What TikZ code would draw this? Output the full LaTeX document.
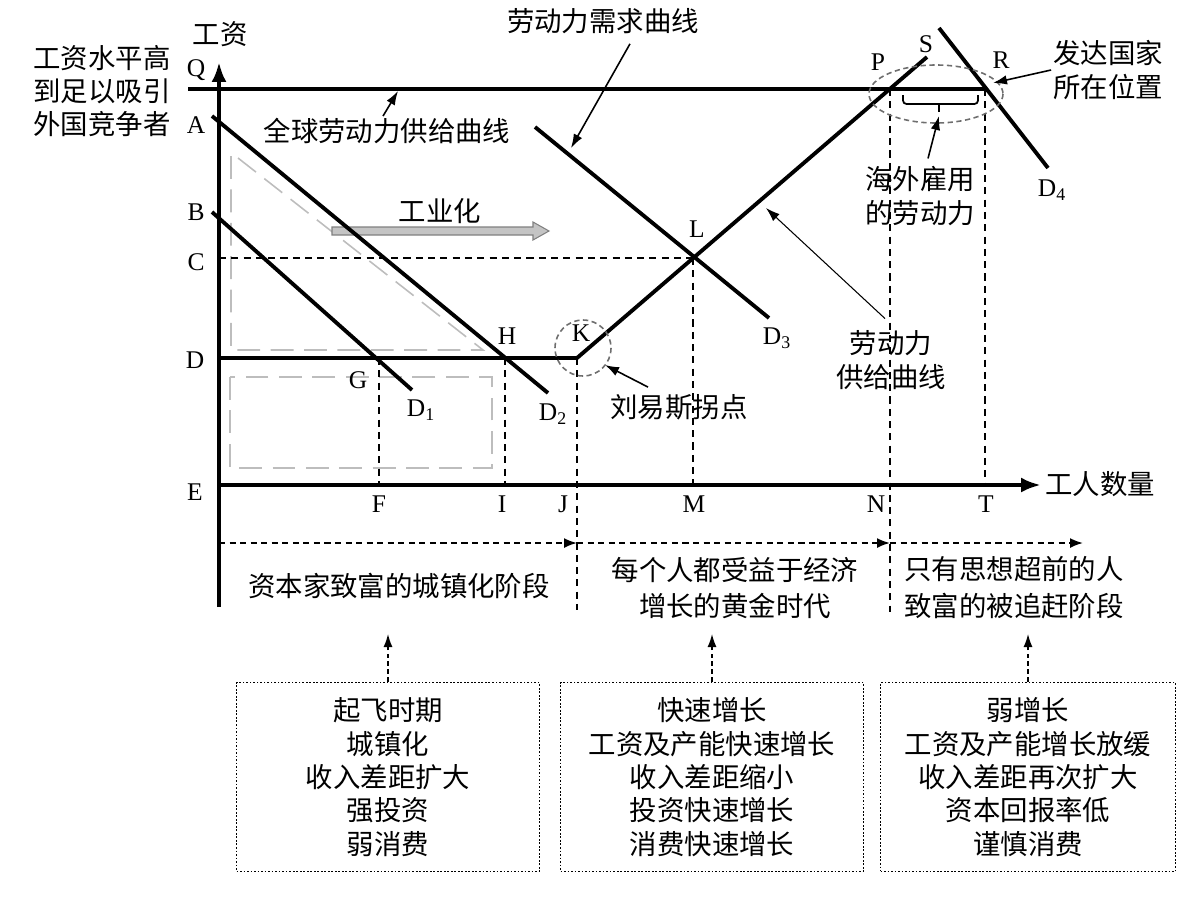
\documentclass[tikz,border=0pt]{standalone}
\usepackage{fontspec}
\setmainfont{Liberation Serif}
\newfontfamily\cjk{Noto Sans CJK SC}
\usepackage{tikz}
\usetikzlibrary{arrows.meta,positioning,decorations.pathreplacing}
\usepackage{xcolor}
\definecolor{guidegray}{HTML}{BDBDBD}
\definecolor{ringgray}{HTML}{6E6E6E}
\definecolor{flowgray}{HTML}{C4C4C4}
\tikzset{
  cnlabel/.style={
    font=\cjk\fontsize{15.6}{19}\selectfont,
    align=center,
    inner sep=1pt
  },
  stagelabel/.style={
    font=\cjk\fontsize{15.6}{21}\selectfont,
    align=center,
    inner sep=1pt
  },
  ptlabel/.style={
    font=\fontsize{14.5}{16}\selectfont,
    inner sep=1pt
  },
  notebox/.style={
    draw,
    densely dotted,
    line width=1pt,
    minimum width=6.06cm,
    minimum height=3.78cm,
    align=center,
    font=\cjk\fontsize{15.6}{19}\selectfont
  },
  curve/.style={line width=2.2pt},
  axis/.style={
    line width=2.4pt,
    -{Latex[length=4mm,width=3mm]}
  },
  guide/.style={dash pattern=on 4pt off 3pt, line width=0.9pt},
  shade/.style={draw=guidegray, dash pattern=on 13pt off 6pt, line width=0.9pt},
  ring/.style={draw=ringgray, dash pattern=on 3pt off 2pt, line width=0.9pt},
  pointer/.style={
    -{Latex[length=2.8mm,width=1.9mm]},
    line width=0.9pt
  },
  stagearrow/.style={
    -{Latex[length=2.6mm,width=2mm]},
    dash pattern=on 3.5pt off 2.5pt,
    line width=1pt
  },
  backarrow/.style={
    -{Latex[length=2.6mm,width=1.8mm]},
    dash pattern=on 2.5pt off 2pt,
    line width=0.8pt
  }
}

\begin{document}
\begin{tikzpicture}[x=0.02cm,y=-0.02cm]
\useasboundingbox (0,0) rectangle (1196,896);

\coordinate (origin) at (219,485);
\coordinate (ytop) at (219,62);
\coordinate (ybot) at (219,607);
\coordinate (xend) at (1041,485);
\coordinate (qstart) at (188,89);
\coordinate (ppt) at (890,89);
\coordinate (rpt) at (985,89);
\coordinate (astart) at (212,116);
\coordinate (aend) at (548,393);
\coordinate (bstart) at (212,212);
\coordinate (bend) at (412,390);
\coordinate (dthreestart) at (535,127);
\coordinate (dthreeend) at (769,318);
\coordinate (dfourstart) at (939,28);
\coordinate (dfourend) at (1048,168);
\coordinate (dstart) at (219,358);
\coordinate (kpt) at (577,358);
\coordinate (spt) at (927,57);
\coordinate (lpt) at (693,258);
\coordinate (gpt) at (379,358);
\coordinate (hpt) at (505,358);
\coordinate (cstart) at (219,258);

\draw[shade] (238,158) -- (483,350) -- (231,350) -- (231,153);
\draw[shade] (230,377) rectangle (492,468);
\draw[draw=gray, fill=flowgray, line width=0.6pt]
  (332,227) -- (533,227) -- (533,222) -- (549,231) -- (533,240) -- (533,235) -- (332,235) -- cycle;

\draw[guide] (cstart) -- (lpt);
\draw[guide] (gpt) -- (gpt |- origin);
\draw[guide] (hpt) -- (hpt |- origin);
\draw[guide] (lpt) -- (lpt |- origin);
\draw[guide] (kpt) -- (577,610);
\draw[guide] (ppt) -- (890,612);
\draw[guide] (rpt) -- (rpt |- origin);

\draw[axis] (ybot) -- (ytop);
\draw[axis] (origin) -- (xend);
\draw[curve] (qstart) -- (rpt);
\draw[curve] (astart) -- (aend);
\draw[curve] (bstart) -- (bend);
\draw[curve] (dthreestart) -- (dthreeend);
\draw[curve] (dfourstart) -- (dfourend);
\draw[curve, line join=miter] (dstart) -- (kpt) -- (spt);

\draw[ring] (936,94) ellipse [x radius=67, y radius=29];
\draw[ring] (583,348) circle [radius=28];
\draw[line width=1pt, rounded corners=2pt] (903,95) -- (903,104) -- (978,104) -- (978,95);
\draw[line width=1pt] (939,104) -- (939,112);
\coordinate (bracetip) at (939,116);

\node[cnlabel] (ylab) at (220,34) {工资};
\node[cnlabel] (xlab) at (1100,484) {工人数量};
\node[cnlabel] (toplab) at (102,91) {工资水平高\\到足以吸引\\外国竞争者};
\node[ptlabel] (labq) at (196,70) {Q};
\node[ptlabel] (laba) at (196,125) {A};
\node[ptlabel] (labb) at (196,212) {B};
\node[ptlabel] (labc) at (196,262) {C};
\node[ptlabel] (labd) at (195,360) {D};
\node[ptlabel] (labe) at (195,492) {E};
\node[ptlabel] (labg) at (358,380) {G};
\node[ptlabel] (labh) at (507,336) {H};
\node[ptlabel] (labk) at (581,333) {K};
\node[ptlabel] (labl) at (697,229) {L};
\node[ptlabel] (labp) at (878,62) {P};
\node[ptlabel] (labs) at (926,44) {S};
\node[ptlabel] (labr) at (1001,60) {R};
\node[ptlabel] (labdone) at (421,410) {D\textsubscript{1}};
\node[ptlabel] (labdtwo) at (553,414) {D\textsubscript{2}};
\node[ptlabel] (labdthree) at (777,338) {D\textsubscript{3}};
\node[ptlabel] (labdfour) at (1052,190) {D\textsubscript{4}};
\node[ptlabel] (labf) at (379,504) {F};
\node[ptlabel] (labi) at (502,504) {I};
\node[ptlabel] (labj) at (563,504) {J};
\node[ptlabel] (labm) at (694,504) {M};
\node[ptlabel] (labn) at (876,504) {N};
\node[ptlabel] (labt) at (986,504) {T};

\node[cnlabel] (industry) at (440,211) {工业化};
\node[cnlabel] (globalsupply) at (387,131) {全球劳动力供给曲线};
\node[cnlabel] (demand) at (603,21) {劳动力需求曲线};
\node[cnlabel] (abroad) at (920,196) {海外雇用\\的劳动力};
\node[cnlabel] (rich) at (1108,70) {发达国家\\所在位置};
\node[cnlabel] (laborsupply) at (891,360) {劳动力\\供给曲线};
\node[cnlabel] (lewis) at (679,407) {刘易斯拐点};

\coordinate (globaltip) at (398,91);
\coordinate (demandtip) at (571,148);
\coordinate (richtip) at (993,83);
\coordinate (supplytip) at (766,208);
\coordinate (lewistip) at (605,365);
\draw[pointer] (globalsupply.north) ++(-4,0) -- (globaltip);
\draw[pointer] (demand.south) ++(27,8) -- (demandtip);
\draw[pointer] (abroad.north) ++(8,-6) -- (bracetip);
\draw[pointer] (rich.west) -- (richtip);
\draw[pointer, line width=0.6pt] (laborsupply.north) ++(-6,-10) -- (supplytip);
\draw[pointer] (lewis.north) ++(-31,-5) -- (lewistip);

\coordinate (stzero) at (219,543);
\coordinate (stone) at (577,543);
\coordinate (sttwo) at (890,543);
\coordinate (stthree) at (1083,543);
\draw[stagearrow] (stzero) -- (stone);
\draw[stagearrow] (stone) -- (sttwo);
\draw[stagearrow] (sttwo) -- (stthree);

\node[stagelabel] (stageone) at (399,586) {资本家致富的城镇化阶段};
\node[stagelabel] (stagetwo) at (735,588) {每个人都受益于经济\\增长的黄金时代};
\node[stagelabel] (stagethree) at (1014,588) {只有思想超前的人\\致富的被追赶阶段};

\node[notebox] (boxone) at (388,777) {起飞时期\\城镇化\\收入差距扩大\\强投资\\弱消费};
\node[notebox] (boxtwo) at (712,777) {快速增长\\工资及产能快速增长\\收入差距缩小\\投资快速增长\\消费快速增长};
\node[notebox, minimum width=5.9cm] (boxthree) at (1028,777) {弱增长\\工资及产能增长放缓\\收入差距再次扩大\\资本回报率低\\谨慎消费};

\coordinate (upone) at (388,634);
\coordinate (uptwo) at (712,634);
\coordinate (upthree) at (1028,634);
\draw[backarrow] (boxone.north) -- (upone);
\draw[backarrow] (boxtwo.north) -- (uptwo);
\draw[backarrow] (boxthree.north) -- (upthree);
\end{tikzpicture}
\end{document}
